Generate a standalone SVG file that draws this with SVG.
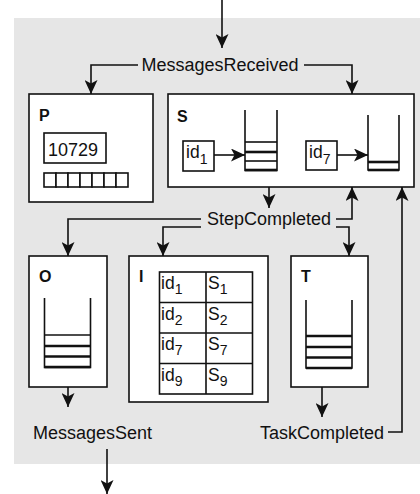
<svg xmlns="http://www.w3.org/2000/svg" width="420" height="494" viewBox="0 0 420 494">
<style>
text{font-family:"Liberation Sans",Arial,sans-serif;fill:#111}
.lbl{font-size:18px}
.b{font-size:16px;font-weight:bold}
.box{fill:#fff;stroke:#111;stroke-width:1.6}
.ln{fill:none;stroke:#111;stroke-width:1.6}
.th{fill:none;stroke:#111;stroke-width:2.6}
.con{fill:none;stroke:#111;stroke-width:1.6;marker-end:url(#ah)}
.cell{font-size:17.5px}
.sub{font-size:14px}
</style>
<defs>
<marker id="ah" markerUnits="userSpaceOnUse" markerWidth="14" markerHeight="13" refX="14" refY="6.5" orient="auto">
<path d="M0,0 L14,6.5 L0,13 L3.5,6.5 z" fill="#111"/>
</marker>
</defs>
<rect x="14" y="18" width="406" height="446" fill="#e6e6e6"/>

<g id="P">
<rect class="box" x="29" y="94" width="124" height="108"/>
<text class="b" x="39" y="121">P</text>
<rect class="box" x="44" y="133" width="62" height="30"/>
<text class="lbl" x="48" y="156">10729</text>
<g class="box">
<rect x="44" y="173" width="12" height="14"/><rect x="56" y="173" width="12" height="14"/><rect x="68" y="173" width="12" height="14"/><rect x="80" y="173" width="12" height="14"/><rect x="92" y="173" width="12" height="14"/><rect x="104" y="173" width="12" height="14"/><rect x="116" y="173" width="12" height="14"/>
</g>
</g>

<g id="S">
<rect class="box" x="168" y="94" width="246" height="93"/>
<text class="b" x="177" y="122">S</text>
<rect class="box" x="183" y="141" width="31" height="30"/>
<text class="cell" x="186" y="158">id<tspan class="sub" dy="6">1</tspan></text>
<path class="ln" d="M245,110 V170.5 H277 V110"/>
<line class="ln" x1="245" y1="142" x2="277" y2="142"/>
<line class="th" x1="245" y1="152" x2="277" y2="152"/>
<line class="ln" x1="245" y1="161" x2="277" y2="161"/>
<line class="th" x1="245" y1="170" x2="277" y2="170"/>
<rect class="box" x="306" y="141" width="31" height="29"/>
<text class="cell" x="309" y="158">id<tspan class="sub" dy="6">7</tspan></text>
<path class="ln" d="M368,115 V170 H399 V115"/>
<line class="th" x1="368" y1="162" x2="399" y2="162"/>
<line class="th" x1="368" y1="170" x2="399" y2="170"/>
</g>

<g id="O">
<rect class="box" x="29" y="256" width="78" height="131"/>
<text class="b" x="39" y="282">O</text>
<path class="ln" d="M44.5,298 V367.5 H90.5 V298"/>
<line class="ln" x1="44.5" y1="335" x2="90.5" y2="335"/>
<line class="th" x1="44.5" y1="346" x2="90.5" y2="346"/>
<line class="th" x1="44.5" y1="356.5" x2="90.5" y2="356.5"/>
<line class="th" x1="44.5" y1="367" x2="90.5" y2="367"/>
</g>

<g id="I">
<rect class="box" x="129" y="256" width="139" height="146"/>
<text class="b" x="139" y="282">I</text>
<rect class="box" x="159.5" y="272" width="93" height="122"/>
<path class="ln" d="M206,272 V394 M159.5,302.5 H252.5 M159.5,333 H252.5 M159.5,363.5 H252.5"/>
<text class="cell" x="161" y="289">id<tspan class="sub" dy="5">1</tspan></text>
<text class="cell" x="208" y="289">S<tspan class="sub" dy="5">1</tspan></text>
<text class="cell" x="161" y="319.5">id<tspan class="sub" dy="5">2</tspan></text>
<text class="cell" x="208" y="319.5">S<tspan class="sub" dy="5">2</tspan></text>
<text class="cell" x="161" y="350">id<tspan class="sub" dy="5">7</tspan></text>
<text class="cell" x="208" y="350">S<tspan class="sub" dy="5">7</tspan></text>
<text class="cell" x="161" y="380.5">id<tspan class="sub" dy="5">9</tspan></text>
<text class="cell" x="208" y="380.5">S<tspan class="sub" dy="5">9</tspan></text>
</g>

<g id="T">
<rect class="box" x="291" y="256" width="77" height="131"/>
<text class="b" x="301" y="282">T</text>
<path class="ln" d="M306,300 V368 H352 V300"/>
<line class="th" x1="306" y1="336" x2="352" y2="336"/>
<line class="th" x1="306" y1="347" x2="352" y2="347"/>
<line class="th" x1="306" y1="357.5" x2="352" y2="357.5"/>
<line class="th" x1="306" y1="368" x2="352" y2="368"/>
</g>

<g id="labels">
<text class="lbl" x="220" y="71" text-anchor="middle">MessagesReceived</text>
<text class="lbl" x="269" y="225" text-anchor="middle">StepCompleted</text>
<text class="lbl" x="92.5" y="439" text-anchor="middle">MessagesSent</text>
<text class="lbl" x="322" y="439" text-anchor="middle">TaskCompleted</text>
</g>

<g id="connectors">
<path class="con" d="M222,0 V48"/>
<path class="con" d="M138,65 H91 V94"/>
<path class="con" d="M304,65 H352 V94"/>
<path class="con" d="M269,187 V208"/>
<path class="con" d="M201,219 H68 V256"/>
<path class="con" d="M201,227 H163 V256"/>
<path class="con" d="M336,219 H352 V187"/>
<path class="con" d="M336,227 H349 V256"/>
<path class="con" d="M68,387 V407"/>
<path class="con" d="M107,449 V494"/>
<path class="con" d="M322,387 V417"/>
<path class="con" d="M388,432 H402 V187"/>
<path class="con" d="M214,155 H245"/>
<path class="con" d="M337,155 H368"/>
</g>
</svg>
